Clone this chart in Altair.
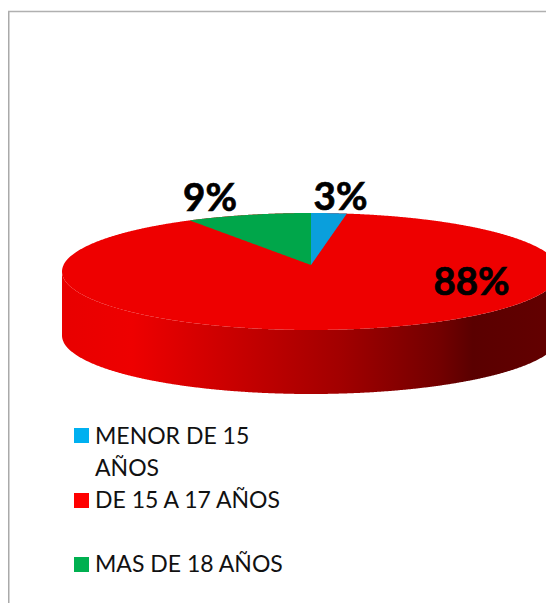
import numpy as np
import pandas as pd
import altair as alt

# Chart values
categories = ["MENOR DE 15 AÑOS", "DE 15 A 17 AÑOS", "MAS DE 18 AÑOS"]
drawn_shares = [2.3, 89.6, 8.1]
slice_labels = ["3%", "88%", "9%"]
legend_lines = ["MENOR DE 15", "AÑOS", "DE 15 A 17 AÑOS", "", "MAS DE 18 AÑOS"]
legend_colors = ["#00b0f0", "#ff0000", "#00b050"]
slice_colors = ["#0a9fdc", "#ee0000", "#00a64a"]

W, H = 538, 595
CX, CY, RX, RY, DEPTH, APEX = 303.0, 263.5, 249.0, 58.5, 64.0, 6.5


def ux(px):
    return (np.asarray(px, float) - CX) / RX


def uy(py):
    return (CY - np.asarray(py, float)) / RY


x_scale = alt.Scale(domain=[float(ux(0)), float(ux(W))], nice=False, zero=False)
y_scale = alt.Scale(domain=[float(uy(H)), float(uy(0))], nice=False, zero=False)
X = alt.X("x:Q", scale=x_scale, axis=None)
Y = alt.Y("y:Q", scale=y_scale, axis=None)
Y2 = alt.Y2("y2:Q")

# Ellipse geometry, unit circle squashed through the scales
xs = np.sin(np.linspace(-np.pi / 2, np.pi / 2, 721))
upper = np.sqrt(np.clip(1 - xs**2, 0, 1))
apex_y = APEX / RY
depth = DEPTH / RY

top_df = pd.DataFrame({"x": xs, "y": upper, "y2": -upper})
side_df = pd.DataFrame({"x": xs, "y": -upper, "y2": -upper - depth})

blue_ang = np.radians(drawn_shares[0] * 3.6)
green_ang = np.radians(drawn_shares[2] * 3.6)


def sector(a0, a1):
    t = np.linspace(a0, a1, 80)
    sx = np.sin(t)
    edge_x, edge_y = (np.sin(blue_ang), np.cos(blue_ang)) if a1 > 0 else (np.sin(a0), np.cos(a0))
    frac = np.abs(sx / edge_x)
    return pd.DataFrame({"x": sx, "y": np.cos(t), "y2": apex_y + (edge_y - apex_y) * frac})


blue_df = sector(0, blue_ang)
green_df = sector(-green_ang, 0)

side_gradient = alt.LinearGradient(
    gradient="linear", x1=0, x2=1, y1=0, y2=0,
    stops=[
        alt.GradientStop(offset=0, color="#e80000"),
        alt.GradientStop(offset=0.14, color="#ee0000"),
        alt.GradientStop(offset=0.37, color="#c40000"),
        alt.GradientStop(offset=0.558, color="#a20000"),
        alt.GradientStop(offset=0.76, color="#720000"),
        alt.GradientStop(offset=0.825, color="#5a0000"),
        alt.GradientStop(offset=1, color="#640000"),
    ],
)

side = alt.Chart(side_df).mark_area(clip=True, color=side_gradient, line=False).encode(x=X, y=Y, y2=Y2)
top = alt.Chart(top_df).mark_area(clip=True, color=slice_colors[1]).encode(x=X, y=Y, y2=Y2)
blue = alt.Chart(blue_df).mark_area(color=slice_colors[0]).encode(x=X, y=Y, y2=Y2)
green = alt.Chart(green_df).mark_area(color=slice_colors[2]).encode(x=X, y=Y, y2=Y2)

# Slice labels
label_df = pd.DataFrame({
    "x": ux([332.5, 463.5, 202]),
    "y": uy([189.5, 274.5, 191]),
    "t": slice_labels,
})
labels = alt.Chart(label_df).mark_text(
    font="Lato", fontWeight="bold", fontSize=38.5, color="#000000", stroke="#000000", strokeWidth=0.7,
    align="center", baseline="middle"
).encode(x=X, y=Y, text="t:N")

# Legend
sq_df = pd.DataFrame({
    "x": ux([66, 66, 66]), "x2": ux([81, 81, 81]),
    "y": uy([420, 485, 549]), "y2": uy([435, 500, 564]),
    "c": legend_colors,
})
squares = alt.Chart(sq_df).mark_rect().encode(
    x=X, x2=alt.X2("x2:Q"), y=Y, y2=Y2, color=alt.Color("c:N", scale=None)
)
leg_df = pd.DataFrame({
    "x": ux([87] * 5),
    "y": uy([429, 461, 493, 525, 557]),
    "t": legend_lines,
})
legend = alt.Chart(leg_df).mark_text(
    font="Lato", fontSize=23, color="#111111", align="left", baseline="middle"
).encode(x=X, y=Y, text="t:N")

# Frame
frame_l = alt.Chart(pd.DataFrame({"a": [0]})).mark_rule(color="#aaaaaa", strokeWidth=2).encode(
    x=alt.value(0.5), y=alt.value(3), y2=alt.value(H)
)
frame_t = alt.Chart(pd.DataFrame({"a": [0]})).mark_rule(color="#b0b0b0", strokeWidth=1.5).encode(
    x=alt.value(0), x2=alt.value(W), y=alt.value(3.5)
)

chart = (
    alt.layer(frame_l, frame_t, side, top, blue, green, labels, squares, legend)
    .properties(width=W, height=H, padding=0, autosize=alt.AutoSizeParams(type="none"))
    .configure_view(stroke=None)
)

chart.save("out.html", embed_options={"renderer": "svg", "actions": False})
